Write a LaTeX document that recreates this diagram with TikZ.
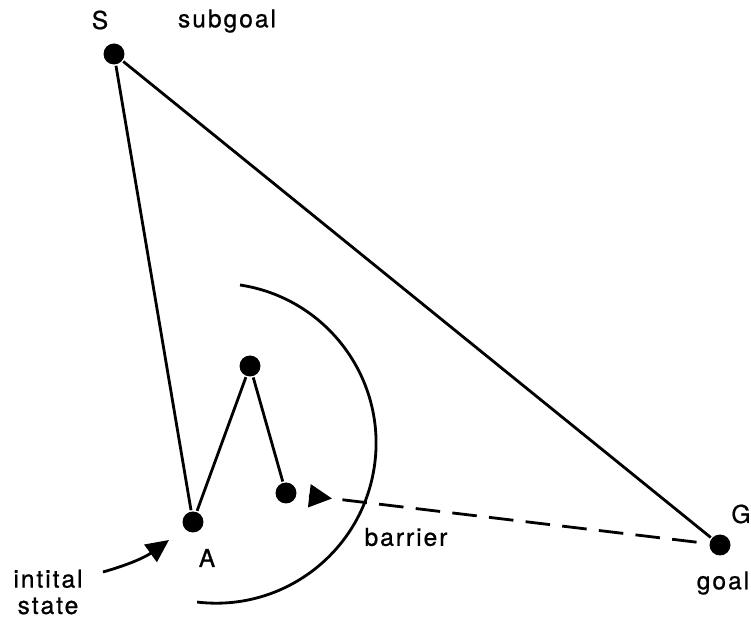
\documentclass[tikz,border=0pt]{standalone}
\usepackage{fontspec}
\setmainfont{TeX Gyre Heros}[LetterSpace=8,FakeBold=0.8]
\usetikzlibrary{arrows.meta,positioning,calc}

\begin{document}
\begin{tikzpicture}[x=0.02cm,y=0.02cm,line width=1.6pt,
  every node/.style={font=\fontsize{14}{15}\selectfont},
  dot/.style={circle,fill,inner sep=0pt,minimum size=0.42cm}]
\useasboundingbox (0,0) rectangle (751,622);
% states
\node[dot] (S) at (114,568) {};
\node[dot] (A) at (193,100) {};
\node[dot] (P) at (250,256) {};
\node[dot] (pin) at (286,129) {};
\node[dot] (G) at (720,77) {};
% labels
\node (lS) at (100,602) {S};
\node (lsub) at (227,601) {subgoal};
\node (lA) at (207,64) {A};
\node (lG) at (741,108) {G};
\node (lgoal) at (723,39) {goal};
\node (lbar) at (406,85) {barrier};
\node[align=center] (linit) at (48,30) {intital\\state};
% barrier
\draw (240,337) arc[start angle=81.4,end angle=-96.8,radius=160];
% paths
\draw (S) -- (A);
\draw (S) -- (G);
\draw (A) -- (P);
\draw (P) -- (pin);
\draw[-{Triangle[length=13pt,width=13pt]}] ($(pin)!0.053!(G)$) -- ($(pin)!0.106!(G)$);
\draw[dash pattern=on 14pt off 7pt] ($(pin)!0.13!(G)$) -- (G);
% initial state arrow
\coordinate (st) at (103,50);
\coordinate (tipc) at (169,82);
\draw[-{Triangle[length=13pt,width=12pt]}] (st) to[bend right=10] (tipc);
\end{tikzpicture}
\end{document}
